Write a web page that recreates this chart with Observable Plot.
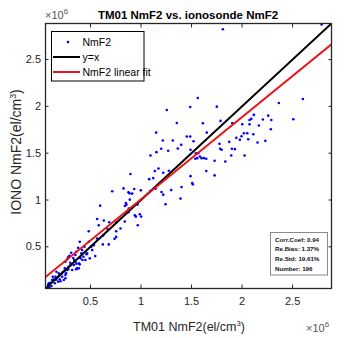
<!DOCTYPE html>
<html><head><meta charset="utf-8">
<script src="https://cdn.jsdelivr.net/npm/d3@7"></script>
<script src="https://cdn.jsdelivr.net/npm/@observablehq/plot@0.6"></script>
<style>body{margin:0;background:#fff;}#chart{width:344px;height:338px;}</style>
</head><body><div id="chart"></div>
<script>
// values in units of 10^6 el/cm^3
const tm01 = [
2.602,2.364,2.507,2.117,2.259,2.206,2.289,2.091,2.074,1.903,2.002,2.074,2.166,2.285,2.018,2.051,2.111,1.995,1.943,1.978,2.061,2.230,2.153,1.929,1.893,2.025,1.810,2.787,
1.562,1.487,1.750,1.255,1.354,1.612,1.787,1.150,1.651,1.453,1.487,1.216,1.315,1.520,1.398,1.777,1.873,1.200,1.364,1.269,1.153,1.490,1.784,1.797,1.899,1.094,1.543,1.566,1.582,1.556,1.599,1.622,1.646,1.537,1.728,1.834,1.137,1.220,1.173,1.275,1.646,1.728,1.490,1.081,1.121,
1.401,1.507,1.513,1.299,1.243,1.391,1.203,1.220,1.144,1.094,
0.896,0.933,0.998,0.876,0.886,0.913,0.827,0.715,0.850,0.856,0.840,0.879,0.965,0.988,1.002,0.939,0.949,0.876,0.840,0.596,0.566,0.632,0.685,0.757,0.797,0.754,0.968,0.889,
0.483,0.394,0.626,0.622,0.681,0.738,0.754,0.547,0.493,0.361,0.351,0.309,0.339,0.272,0.252,0.358,0.394,0.421,0.431,0.094,0.507,
0.226,0.213,0.186,0.153,0.170,0.137,0.121,0.104,0.087,0.081,0.220,0.252,0.236,0.203,0.196,0.285,0.269,0.259,0.292,0.279,0.450,0.368,0.302,0.384,0.335,0.351,0.319,0.180,0.147,0.114,0.252,0.163,0.246,0.127,0.384,0.401,0.467,0.517,0.418,0.378,0.533,0.566,0.483,0.665,0.582,
0.44,0.46,0.30,0.24,0.19,0.16,0.28,0.33,0.41,0.36
];
const iono = [
2.079,2.036,1.862,1.909,1.901,1.859,1.855,1.866,1.855,1.823,1.809,1.809,1.795,1.755,1.713,1.713,1.702,1.681,1.664,1.643,1.649,1.632,1.614,1.543,1.476,1.476,2.823,2.875,
2.089,1.994,1.997,1.962,1.823,1.819,1.845,1.720,1.720,1.678,1.678,1.635,1.635,1.628,1.589,1.600,1.621,1.547,1.550,1.526,1.511,1.536,1.547,1.536,1.547,1.476,1.500,1.500,1.465,1.447,1.447,1.447,1.440,1.440,1.419,1.412,1.309,1.291,1.337,1.313,1.309,1.263,1.255,1.223,1.234,
1.138,1.181,1.167,1.106,0.954,1.015,1.085,1.057,1.121,1.096,
1.277,1.117,1.103,1.082,1.071,1.068,1.124,1.093,0.968,0.951,0.936,0.909,0.951,0.848,0.823,0.837,0.823,0.869,0.770,0.940,0.798,0.781,0.763,0.763,0.696,0.667,0.731,1.004,
0.667,0.553,0.621,0.526,0.526,0.585,0.606,0.401,0.377,0.447,0.412,0.436,0.359,0.369,0.340,0.260,0.313,0.359,0.394,0.068,0.500,
0.231,0.210,0.217,0.181,0.174,0.153,0.146,0.117,0.111,0.093,0.181,0.199,0.146,0.132,0.153,0.287,0.252,0.217,0.404,0.387,0.359,0.270,0.302,0.323,0.305,0.340,0.252,0.128,0.111,0.082,0.164,0.234,0.270,0.181,0.270,0.377,0.430,0.465,0.465,0.489,0.518,0.589,0.553,0.696,0.731,
0.50,0.42,0.33,0.24,0.19,0.15,0.26,0.38,0.43,0.32
];
const tickValues = [0.5, 1, 1.5, 2, 2.5];
const axisDomain = [0.055, 2.885];
const fitSlope = 0.878;
const fitIntercept = 0.129;
const titleText = "TM01 NmF2 vs. ionosonde NmF2";
const xLabel = "TM01 NmF2(el/cm";
const yLabel = "IONO NmF2(el/cm";
const legendLabels = ["NmF2", "y=x", "NmF2 linear fit"];
const statsLabels = ["Corr.Coef: 0.94", "Re.Bias: 1.37%", "Re.Std: 19.61%", "Number: 196"];

const points = tm01.map((x, i) => ({x, y: iono[i]}));
const identity = axisDomain.map(d => ({x: d, y: d}));
const fit = axisDomain.map(d => ({x: d, y: fitSlope * d + fitIntercept}));

const font = "'Liberation Sans', Arial, Helvetica, sans-serif";
const fmt = d => String(d);
const svg = Plot.plot({
  width: 344, height: 338,
  marginLeft: 45, marginRight: 13, marginTop: 23, marginBottom: 50,
  style: {fontFamily: font, fontSize: "11px", color: "#262626", background: "#fff", overflow: "visible"},
  x: {domain: axisDomain},
  y: {domain: axisDomain},
  marks: [
    Plot.dot(points, {x: "x", y: "y", r: 1.3, fill: "#0000ff", stroke: null}),
    Plot.line(identity, {x: "x", y: "y", stroke: "#000", strokeWidth: 2, clip: true}),
    Plot.line(fit, {x: "x", y: "y", stroke: "#e8141a", strokeWidth: 2, clip: true}),
    Plot.frame({stroke: "#262626", strokeWidth: 1.3}),
    Plot.axisX({ticks: tickValues, tickFormat: fmt, tickSize: -3.5, tickPadding: 12, label: null}),
    Plot.axisX({ticks: tickValues, anchor: "top", tickFormat: () => "", tickSize: -3.5, label: null}),
    Plot.axisY({ticks: tickValues, tickFormat: fmt, tickSize: -3.5, tickPadding: 8, label: null}),
    Plot.axisY({ticks: tickValues, anchor: "right", tickFormat: () => "", tickSize: -3.5, label: null})
  ]
});
document.getElementById("chart").appendChild(svg);

const s = d3.select(svg);
const g = s.append("g").attr("font-family", font).attr("text-anchor", "start");
g.append("text").attr("x", 188).attr("y", 19).attr("text-anchor", "middle")
  .attr("font-weight", "bold").attr("font-size", 11.5).attr("fill", "#000").text(titleText);

function expText(x, y) {
  const t = g.append("text").attr("x", x).attr("y", y).attr("font-size", 11).attr("fill", "#555");
  t.append("tspan").text("×10");
  t.append("tspan").attr("dy", -5).attr("font-size", 8).text("6");
}
expText(45, 19);
expText(306, 332);

function labelText(sel, main) {
  sel.append("tspan").text(main);
  sel.append("tspan").attr("dy", -5).attr("font-size", "0.62em").text("3");
  sel.append("tspan").attr("dy", 5).text(")");
}
labelText(g.append("text").attr("x", 189).attr("y", 331).attr("text-anchor", "middle")
  .attr("font-size", 12.5).attr("fill", "#262626"), xLabel);
labelText(g.append("text").attr("transform", "translate(21,152) rotate(-90)").attr("text-anchor", "middle")
  .attr("font-size", 14).attr("fill", "#262626"), yLabel);

// legend
const lg = g.append("g");
lg.append("rect").attr("x", 51.5).attr("y", 31.5).attr("width", 92.5).attr("height", 49.5)
  .attr("fill", "#fff").attr("stroke", "#000").attr("stroke-width", 1);
const rowsY = [42, 57, 72];
lg.append("circle").attr("cx", 68).attr("cy", rowsY[0]).attr("r", 1.3).attr("fill", "#0000ff");
lg.append("line").attr("x1", 53).attr("x2", 80).attr("y1", rowsY[1]).attr("y2", rowsY[1]).attr("stroke", "#000").attr("stroke-width", 2);
lg.append("line").attr("x1", 53).attr("x2", 80).attr("y1", rowsY[2]).attr("y2", rowsY[2]).attr("stroke", "#e8141a").attr("stroke-width", 2);
legendLabels.forEach((t, i) => {
  lg.append("text").attr("x", 82.5).attr("y", rowsY[i]).attr("dy", "0.35em")
    .attr("font-size", 10.5).attr("fill", "#000").text(t);
});

// stats box
const sb = g.append("g");
sb.append("rect").attr("x", 270.5).attr("y", 232.5).attr("width", 57).attr("height", 42.5)
  .attr("fill", "#fff").attr("stroke", "#8a8a8a").attr("stroke-width", 1);
statsLabels.forEach((t, i) => {
  sb.append("text").attr("x", 275).attr("y", 241.5 + i * 9.9)
    .attr("font-size", 6.2).attr("font-weight", "bold").attr("fill", "#111").text(t);
});
</script>
</body></html>
